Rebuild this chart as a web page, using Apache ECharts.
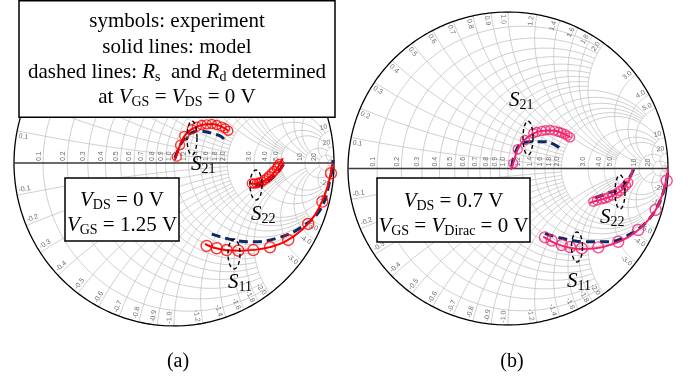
<!DOCTYPE html>
<html>
<head>
<meta charset="utf-8">
<script src="https://cdn.jsdelivr.net/npm/echarts@6/dist/echarts.min.js"></script>
<style>
  html, body { margin: 0; padding: 0; background: #fff; }
  #chart { width: 689px; height: 379px; }
</style>
</head>
<body>
<div id="chart"></div>
<script>
// Smith chart grid: normalised values and the value where each line stops
const gridValues = [0.1, 0.2, 0.3, 0.4, 0.5, 0.6, 0.7, 0.8, 0.9, 1.0, 1.2, 1.4, 1.6, 1.8, 2.0, 3.0, 4.0, 5.0, 10, 20, 50];
const gridEnds = [2, 2, 2, 2, 2, 2, 2, 2, 2, 5, 5, 5, 5, 5, 10, 10, 10, 20, 20, 50, Infinity];
const labelValues = [0.1, 0.2, 0.3, 0.4, 0.5, 0.6, 0.7, 0.8, 0.9, 1.0, 1.2, 1.4, 1.6, 1.8, 2.0, 3.0, 4.0, 5.0, 10, 20];
const labelTexts = ["0.1", "0.2", "0.3", "0.4", "0.5", "0.6", "0.7", "0.8", "0.9", "1.0", "1.2", "1.4", "1.6", "1.8", "2.0", "3.0", "4.0", "5.0", "10", "20"];

// (a) V_DS = 0 V, V_GS = 1.25 V   -- reflection coefficients [Re, Im]
const aS11Meas = [[0.204, -0.509], [0.267, -0.523], [0.329, -0.534], [0.402, -0.538], [0.496, -0.534], [0.6, -0.517], [0.714, -0.472], [0.839, -0.374], [0.927, -0.237], [0.981, -0.063]];
const aS11Model = [[0.194, -0.497], [0.25, -0.52], [0.33, -0.535], [0.42, -0.538], [0.5, -0.533], [0.6, -0.516], [0.7, -0.48], [0.8, -0.41], [0.88, -0.32], [0.94, -0.2], [0.975, -0.09], [0.99, 0]];
const aS11Dash = [[0.236, -0.436], [0.369, -0.472], [0.494, -0.483], [0.642, -0.462], [0.788, -0.399], [0.913, -0.288], [0.975, -0.104], [0.994, 0.018]];
const aS21Meas = [[0.017, 0.039], [0.038, 0.11], [0.064, 0.166], [0.111, 0.207], [0.142, 0.223], [0.173, 0.233], [0.204, 0.237], [0.236, 0.239], [0.267, 0.233], [0.298, 0.223], [0.319, 0.213], [0.339, 0.198]];
const aS21Model = [[0.006, 0.018], [0.02, 0.06], [0.04, 0.115], [0.065, 0.165], [0.1, 0.2], [0.14, 0.222], [0.19, 0.236], [0.24, 0.239], [0.29, 0.226], [0.34, 0.198]];
const aS21Dash = [[0.006, 0.031], [0.031, 0.092], [0.063, 0.147], [0.106, 0.184], [0.156, 0.196], [0.206, 0.19], [0.25, 0.178], [0.288, 0.166], [0.313, 0.147]];
const aS22Meas = [[0.486, -0.125], [0.5, -0.126], [0.517, -0.125], [0.531, -0.12], [0.548, -0.115], [0.563, -0.104], [0.579, -0.094], [0.594, -0.08], [0.611, -0.063], [0.625, -0.049], [0.642, -0.032], [0.65, -0.018], [0.658, -0.006]];
const aS22Model = [[0.48, -0.128], [0.52, -0.125], [0.56, -0.113], [0.6, -0.085], [0.64, -0.04], [0.665, 0.0], [0.68, 0.03]];
const aS22Dash = [[0.506, -0.141], [0.55, -0.129], [0.6, -0.104], [0.65, -0.055], [0.681, -0.012], [0.694, 0.018]];

// (b) V_DS = 0.7 V, V_GS = V_Dirac = 0 V
const bS11Meas = [[0.231, -0.44], [0.273, -0.461], [0.336, -0.489], [0.388, -0.502], [0.461, -0.51], [0.564, -0.504], [0.689, -0.468], [0.814, -0.393], [0.923, -0.265], [0.992, -0.078]];
const bS11Model = [[0.22, -0.435], [0.3, -0.48], [0.38, -0.505], [0.46, -0.515], [0.55, -0.51], [0.65, -0.485], [0.75, -0.44], [0.84, -0.37], [0.92, -0.27], [0.97, -0.15], [0.995, -0.04], [1.0, 0.0]];
const bS11Dash = [[0.231, -0.414], [0.336, -0.446], [0.481, -0.468], [0.627, -0.468], [0.752, -0.425], [0.877, -0.329], [0.961, -0.18], [0.998, -0.031]];
const bS21Meas = [[0.033, 0.033], [0.061, 0.123], [0.106, 0.182], [0.158, 0.225], [0.18, 0.233], [0.211, 0.24], [0.235, 0.244], [0.263, 0.246], [0.29, 0.242], [0.314, 0.235], [0.335, 0.228], [0.356, 0.22], [0.372, 0.21], [0.388, 0.199]];
const bS21Model = [[0.02, -0.01], [0.035, 0.04], [0.06, 0.12], [0.1, 0.18], [0.16, 0.225], [0.22, 0.242], [0.28, 0.243], [0.34, 0.226], [0.39, 0.198]];
const bS21Dash = [[0.023, 0.012], [0.044, 0.099], [0.086, 0.161], [0.148, 0.171], [0.231, 0.171], [0.294, 0.15], [0.331, 0.125]];
const bS22Meas = [[0.533, -0.212], [0.556, -0.204], [0.586, -0.197], [0.606, -0.192], [0.625, -0.184], [0.65, -0.173], [0.679, -0.158], [0.7, -0.144], [0.721, -0.127], [0.738, -0.109], [0.752, -0.091]];
const bS22Model = [[0.51, -0.22], [0.56, -0.205], [0.62, -0.188], [0.68, -0.16], [0.72, -0.13], [0.75, -0.09], [0.77, -0.04], [0.78, 0.0]];
const bS22Dash = [[0.544, -0.188], [0.625, -0.157], [0.711, -0.125], [0.763, -0.052], [0.788, 0.001]];

const SERIF = "'Liberation Serif', 'Times New Roman', serif";
const NAVY = "#0b2a63";

// z = r + jx  ->  reflection coefficient
function gamma(r, x) {
  const den = (r + 1) * (r + 1) + x * x;
  return [(r * r + x * x - 1) / den, (2 * x) / den];
}

function gridCurves() {
  const N = 120;
  const curves = [];
  gridValues.forEach((v, i) => {
    const e = gridEnds[i];
    const lim = isFinite(e) ? Math.atan(e) : Math.PI / 2 - 1e-4;
    const rc = [];
    for (let k = -N; k <= N; k++) rc.push(gamma(v, Math.tan((lim * k) / N)));
    curves.push({ coords: rc });
    [1, -1].forEach((s) => {
      const xc = [];
      for (let k = 0; k <= N; k++) xc.push(gamma(Math.tan((lim * k) / N), s * v));
      curves.push({ coords: xc });
    });
  });
  return curves;
}

function rimCircle() {
  const pts = [];
  for (let k = 0; k <= 360; k++) pts.push([Math.cos((k * Math.PI) / 180), Math.sin((k * Math.PI) / 180)]);
  return pts;
}

const gridLabels = [];
labelValues.forEach((v, i) => {
  gridLabels.push({ g: [(v - 1) / (v + 1), 0], text: labelTexts[i], kind: "axis" });
  [1, -1].forEach((s) => {
    gridLabels.push({ g: gamma(0, s * v), text: (s < 0 ? "-" : "") + labelTexts[i], kind: "rim" });
  });
});

function renderLabel(params, api) {
  const lb = gridLabels[params.dataIndex];
  const style = { text: lb.text, fill: "#6e6e6e", fontSize: 7, fontFamily: "'Liberation Sans', Arial, sans-serif" };
  if (lb.kind === "axis") {
    const p = api.coord(lb.g);
    return { type: "text", x: p[0] - 1, y: p[1] - 2, rotation: Math.PI / 2,
      style: Object.assign(style, { align: "left", verticalAlign: "bottom" }) };
  }
  const th = Math.atan2(lb.g[1], lb.g[0]);
  const a = th + (th > 0 ? 0.03 : -0.03);
  const p = api.coord([0.985 * Math.cos(a), 0.985 * Math.sin(a)]);
  let rot = a;
  let align = "right";
  if (Math.cos(a) < 0) {
    rot = a > 0 ? a - Math.PI : a + Math.PI;
    align = "left";
  }
  return { type: "text", x: p[0], y: p[1], rotation: rot,
    style: Object.assign(style, { align: align, verticalAlign: "middle" }) };
}

const panels = [
  { s11: [aS11Meas, aS11Model, aS11Dash], s21: [aS21Meas, aS21Model, aS21Dash], s22: [aS22Meas, aS22Model, aS22Dash], color: "#ff0000" },
  { s11: [bS11Meas, bS11Model, bS11Dash], s21: [bS21Meas, bS21Model, bS21Dash], s22: [bS22Meas, bS22Model, bS22Dash], color: "#f3226f" },
];

const series = [];
const curves = gridCurves();
panels.forEach((pn, i) => {
  const ax = { xAxisIndex: i, yAxisIndex: i };
  series.push(Object.assign({ type: "lines", coordinateSystem: "cartesian2d", polyline: true, silent: true, z: 1,
    lineStyle: { color: "#c2c2c2", width: 0.8, opacity: 1 }, data: curves }, ax));
  series.push(Object.assign({ type: "lines", coordinateSystem: "cartesian2d", polyline: true, silent: true, z: 1,
    lineStyle: { color: "#000", width: 1.3, opacity: 1 }, data: [{ coords: rimCircle() }] }, ax));
  series.push(Object.assign({ type: "lines", coordinateSystem: "cartesian2d", polyline: true, silent: true, z: 1,
    lineStyle: { color: "#3a3a3a", width: 1.4, opacity: 1 }, data: [{ coords: [[-1, 0], [1, 0]] }] }, ax));
  series.push(Object.assign({ type: "custom", coordinateSystem: "cartesian2d", silent: true, z: 1,
    data: gridLabels.map((l) => l.g), renderItem: renderLabel }, ax));
  [["S11", pn.s11, 11], ["S21", pn.s21, 9], ["S22", pn.s22, 9]].forEach(([name, d, size]) => {
    series.push(Object.assign({ name: name + " dashed", type: "line", data: d[2], smooth: 0.4, showSymbol: false, clip: false, z: 3,
      lineStyle: { color: NAVY, width: 3, type: [9, 5] } }, ax));
    series.push(Object.assign({ name: name + " model", type: "line", data: d[1], smooth: 0.4, showSymbol: false, clip: false, z: 4,
      lineStyle: { color: pn.color, width: 2 } }, ax));
    series.push(Object.assign({ name: name + " meas", type: "scatter", data: d[0], symbol: "circle", symbolSize: size, clip: false, z: 5,
      itemStyle: { color: "rgba(0,0,0,0)", borderColor: pn.color, borderWidth: 1.4 } }, ax));
  });
});

const richBase = {
  i: { fontStyle: "italic", fontSize: 21, lineHeight: 24, fontFamily: SERIF, fill: "#000" },
  s: { fontSize: 14, lineHeight: 9, verticalAlign: "bottom", fontFamily: SERIF, fill: "#000" },
};

function txt(text, x, y, align, size) {
  return { type: "text", x: x, y: y, z: 60,
    style: { text: text, rich: richBase, fontSize: size || 21, lineHeight: 24, fontFamily: SERIF, fill: "#000",
      align: align || "center", verticalAlign: "middle" } };
}

function box(x, y, w, h) {
  return { type: "rect", z: 55, shape: { x: x, y: y, width: w, height: h },
    style: { fill: "#fff", stroke: "#000", lineWidth: 1.5 } };
}

function ellipse(cx, cy, rx, ry) {
  const pts = [];
  for (let k = 0; k <= 48; k++) {
    const t = (k / 48) * Math.PI * 2;
    pts.push([cx + rx * Math.cos(t), cy + ry * Math.sin(t)]);
  }
  return { type: "polyline", z: 50, shape: { points: pts },
    style: { stroke: "#000", fill: null, lineWidth: 1.4, lineDash: [4, 3] } };
}

const graphics = [
  box(19, 0.75, 316, 116.5),
  txt("symbols: experiment", 177, 21),
  txt("solid lines: model", 177, 47),
  txt("dashed lines: {i|R}{s|s}  and {i|R}{s|d} determined", 177, 72),
  txt("at {i|V}{s|GS} = {i|V}{s|DS} = 0 V", 177, 97),
  box(65, 178, 114, 63),
  txt("{i|V}{s|DS} = 0 V", 122, 200),
  txt("{i|V}{s|GS} = 1.25 V", 122, 225),
  box(377, 178, 153, 64),
  txt("{i|V}{s|DS} = 0.7 V", 453.5, 201.5),
  txt("{i|V}{s|GS} = {i|V}{s|Dirac} = 0 V", 453.5, 226.5),
  ellipse(192, 138, 5, 17), txt("{i|S}{s|21}", 191, 164, "left"),
  ellipse(256, 185, 6, 15), txt("{i|S}{s|22}", 251, 214, "left"),
  ellipse(234, 254, 6, 15), txt("{i|S}{s|11}", 228, 282, "left"),
  ellipse(528, 138, 5, 17), txt("{i|S}{s|21}", 509, 100, "left"),
  ellipse(620, 192, 5, 17), txt("{i|S}{s|22}", 600, 217, "left"),
  ellipse(577, 247, 5.5, 15), txt("{i|S}{s|11}", 567, 281, "left"),
  txt("(a)", 178, 362, "center", 20),
  txt("(b)", 512, 362, "center", 20),
];

const chart = echarts.init(document.getElementById("chart"));
chart.setOption({
  animation: false,
  backgroundColor: "#fff",
  grid: [
    { left: 14, top: 0, width: 320, height: 326 },
    { left: 348, top: 12, width: 320, height: 313 },
  ],
  xAxis: [0, 1].map((i) => ({ type: "value", gridIndex: i, min: -1, max: 1, show: false })),
  yAxis: [0, 1].map((i) => ({ type: "value", gridIndex: i, min: -1, max: 1, show: false })),
  series: series,
  graphic: graphics,
});
</script>
</body>
</html>
